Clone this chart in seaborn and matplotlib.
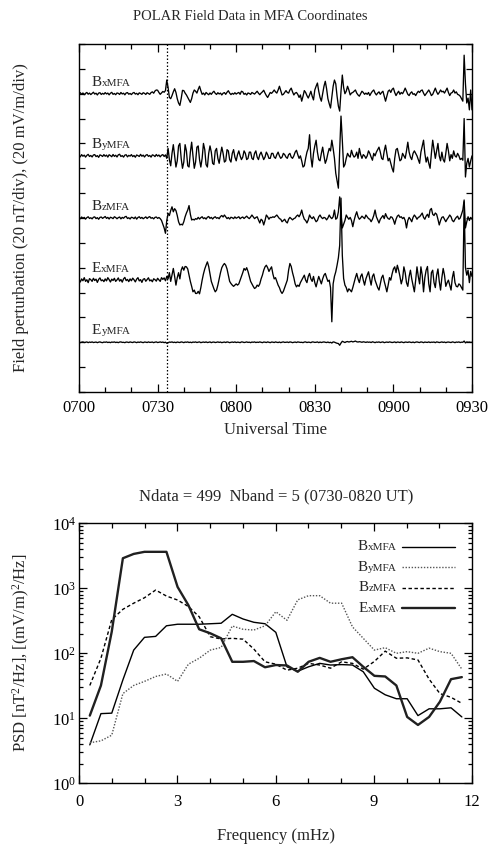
import numpy as np
import pandas as pd
import matplotlib
matplotlib.use("Agg")
import matplotlib.pyplot as plt
import seaborn as sns
from matplotlib.offsetbox import TextArea, HPacker, VPacker, DrawingArea, AnchoredOffsetbox, AnnotationBbox
from matplotlib.lines import Line2D
from matplotlib.ticker import MultipleLocator, LogLocator, NullFormatter

# ---------------- data: time series (perturbations, 0.5-min samples from 0700 UT) -------------
SAMPLE_MIN = 0.5
bx = [0.0, 0.8, -0.5, 0.6, -0.8, 0.3, 1.0, -0.4, 0.5, -0.7,
      0.2, 1.2, -0.3, 0.4, -1.0, 0.5, 0.8, -0.6, 0.3, -0.4,
      0.9, -0.2, 0.5, -0.9, 0.4, 1.1, -0.5, 0.2, -0.8, 0.6,
      0.3, -0.6, 1.0, -0.2, 0.4, -0.9, 0.6, 0.9, -0.4, 0.2,
      -0.7, 0.5, 1.0, -0.3, 0.3, -0.8, 0.7, 0.2, -0.5, 0.8,
      0.3, -0.6, 0.8, 0.2, -0.5, 0.9, 1.5, 0.4, 2.2, 3.0,
      2.8, 1.0, -0.5, 0.6, 1.8, 1.2, 2.5, 11.0, 5.0, -3.0,
      -4.0, -1.5, 1.5, 4.0, 1.0, -4.0, -7.5, -9.4, -4.0, 2.7,
      2.5, 0.5, -1.0, -3.0, -5.0, -7.0, -4.0, 0.5, 3.0, 2.0,
      0.5, 3.5, 6.0, 2.5, -0.5, 0.5, -1.0, 1.0, 0.0, -0.8,
      0.6, -0.5, 1.0, 2.0, 0.3, -0.6, 0.8, -0.2, 0.5, -1.0,
      0.4, 0.9, -0.5, 1.2, 2.4, 0.5, -0.7, 0.3, -0.4, 0.8,
      -0.3, 0.5, 1.0, -0.5, 2.0, 1.5, -0.5, 0.3, -1.0, 0.6,
      0.2, -0.6, 1.0, 0.4, -0.3, 0.8, 2.0, 0.4, -0.8, 0.5,
      1.5, 2.8, 0.5, -1.5, -3.0, -1.0, 1.0, 0.3, 1.5, 3.0,
      1.5, 0.5, 3.0, 6.0, 2.5, -1.0, -0.5, 1.0, 2.5, 1.0,
      0.5, 3.0, 4.5, 1.5, -1.0, 0.5, 1.0, -0.5, -3.0, -1.0,
      -6.0, -2.0, 2.5, 1.0, -1.5, -3.5, -1.0, 2.0, -2.0, -5.0,
      3.0, 6.0, 8.6, 2.0, -3.0, -6.0, 0.0, 6.0, 10.0, 4.0,
      -4.0, -8.0, -11.5, -3.0, 6.0, 11.0, 8.0, -2.0, -10.0, -14.0,
      2.0, 15.0, 5.0, 0.0, 2.0, 6.0, 3.0, -1.0, 0.5, 1.0,
      2.0, 3.0, 0.5, -1.0, -2.0, 0.0, 2.0, 1.0, -0.5, 0.5,
      -0.5, 1.0, -1.5, 0.5, 2.0, 3.0, 0.5, -1.0, 0.5, 1.5,
      -0.5, 1.0, 2.0, -2.0, -6.0, -2.0, 2.0, 3.0, 1.0, 3.5,
      4.5, 1.0, -1.5, 0.5, 2.0, -0.5, 1.0, 0.0, 2.0, 4.5,
      2.0, -0.5, -1.5, 0.5, 1.5, -0.5, 0.0, -1.5, 0.5, 2.0,
      1.0, 2.5, 3.0, 0.5, -1.5, 0.0, 1.5, 3.0, 1.0, -1.5,
      -0.5, 2.0, 4.5, 1.5, -0.5, 1.0, 3.0, 1.5, 2.0, 0.5,
      2.5, 4.5, 1.0, -1.5, 0.5, 1.0, 3.0, 0.5, 1.5, -0.5,
      -1.0, -2.0, -4.0, -6.0, 31.0, 8.0, -7.5, -3.5, -13.0, 3.0,
      -13.0]

by = [0.5, -0.8, 1.0, -0.3, 0.6, -1.0, 0.4, 1.2, -0.5, 0.3,
      -0.9, 0.7, 1.0, -0.6, 0.2, -1.2, 0.8, 0.3, -0.5, 1.0,
      -0.3, 0.6, -1.0, 0.9, 0.2, -0.7, 1.1, -0.4, 0.5, -0.9,
      0.8, 1.3, -0.5, 0.2, -1.0, 0.6, 0.9, -0.8, 0.4, -0.2,
      1.0, -0.6, 0.3, -1.1, 0.7, 0.2, -0.5, 1.2, -0.3, 0.6,
      -0.9, 0.5, 1.0, -0.4, 0.3, -1.0, 0.8, 0.4, -0.6, 1.1,
      -0.2, 0.7, -0.8, 0.5, 1.0, -0.5, 0.8, -2.0, 6.0, -3.0,
      -8.0, 2.0, 9.0, 0.0, -9.0, -4.0, 8.0, 10.0, -2.0, -10.0,
      -5.0, 9.0, 4.0, -8.0, -9.0, 3.0, 11.0, 0.0, -10.0, -5.0,
      7.0, 8.0, -3.0, -9.0, -2.0, 10.0, 5.0, -7.0, -9.0, 2.0,
      8.0, 3.0, -6.0, -7.0, 4.0, 6.0, -2.0, -6.0, 1.0, 7.0,
      2.0, -5.0, -4.0, 5.0, 4.0, -3.0, -5.0, 2.0, 5.0, -1.0,
      -4.0, 1.0, 4.0, 0.0, -3.0, -1.0, 4.0, 2.0, -3.0, -2.0,
      3.0, 3.0, -2.0, -3.0, 2.0, 4.0, -1.0, -3.0, 1.0, 3.0,
      0.0, -3.0, -1.0, 3.0, 1.0, -2.0, -2.0, 2.0, 2.0, -1.0,
      -2.0, 1.0, 3.0, 0.0, -2.0, -1.0, 2.0, 1.0, -1.0, -2.0,
      1.0, 2.0, -1.0, -2.0, 0.0, 3.0, 4.5, 1.0, -2.0, 0.0,
      -4.0, -9.0, -8.0, -2.0, 3.0, 6.0, 17.0, -1.0, -9.0, 2.0,
      8.0, 12.6, 3.0, -3.0, -4.0, 2.0, 7.0, 0.0, -6.0, -3.0,
      2.0, 6.0, 4.0, 12.6, 6.0, -2.0, -14.0, -20.0, -26.0, 4.5,
      32.0, 12.6, -9.0, -7.0, -2.0, 2.0, 0.0, -1.0, 4.5, 1.0,
      -1.0, 0.0, 3.0, -2.0, 6.0, 1.0, -2.0, 1.0, 0.0, -2.0,
      0.0, 4.0, 2.0, -1.0, -3.5, 2.0, 0.0, 3.0, 5.0, 7.0,
      3.0, -2.0, -3.0, 4.0, 8.6, 2.0, -4.0, -2.0, -6.0, -10.0,
      -13.0, -2.0, 5.0, 6.0, 1.0, -4.0, -3.0, 2.0, 0.0, -2.0,
      4.0, 11.0, 3.0, -1.0, -3.0, 2.0, 4.0, 2.0, 0.0, -3.0,
      -6.0, 3.0, 8.0, 12.6, 2.0, -5.0, -1.0, -6.0, -10.0, 2.0,
      12.6, 5.0, -2.0, 4.0, 10.0, 0.0, -4.0, 3.0, -3.0, -5.0,
      2.0, 10.0, 4.0, -4.0, 1.0, -2.0, 4.0, 0.0, -1.0, 2.0,
      0.0, -3.0, -2.0, -3.5, 30.0, -17.0, -6.0, -2.0, -9.0, -4.0,
      0.0]

bz = [0.4, -0.6, 0.8, -0.2, 0.5, -0.9, 0.3, 1.0, -0.4, 0.2,
      -0.7, 0.6, 0.9, -0.5, 0.3, -1.0, 0.5, 0.8, -0.3, 0.4,
      1.2, -0.3, 0.5, -0.8, 0.6, 0.2, -0.5, 1.0, 0.4, -0.6,
      0.3, 0.8, -0.7, 0.5, -0.2, 0.9, 1.3, -0.4, 0.2, -0.8,
      0.6, 0.3, -0.5, 0.8, -0.9, 0.4, 1.0, -0.3, 0.5, -0.6,
      0.2, 0.9, -0.4, 0.6, 1.1, -0.2, 0.3, -0.7, 0.5, 0.8,
      -0.3, 0.4, -0.5, -2.0, -5.0, -8.0, -12.3, -2.0, 3.7, 2.0,
      6.0, 9.0, 5.0, 7.5, 6.0, 2.0, -3.0, -5.6, -5.0, -5.6,
      -3.0, 1.0, 4.0, 6.4, 10.0, 3.0, -1.6, -1.0, -1.6, -0.5,
      -1.0, 0.5, -0.8, 0.3, 1.0, -0.5, 0.2, -0.9, 0.6, 1.2,
      -0.3, 0.5, -0.8, 0.4, 1.0, -0.2, 0.3, -0.6, 1.2, 2.0,
      0.8, 2.4, 1.0, -0.5, 0.4, -0.8, 0.6, 0.2, -0.5, 0.9,
      -0.2, 0.4, 1.0, -0.6, 0.3, 0.8, -0.4, 0.6, 1.5, 0.3,
      -0.5, 0.8, 2.4, 1.0, -0.5, 0.4, 1.0, -1.5, -4.0, -1.0,
      -2.0, -5.6, -2.0, 2.4, 1.0, -1.0, 0.5, 0.3, 1.0, 0.5,
      1.5, 2.4, 1.0, -0.5, -1.0, -3.0, -2.0, -1.0, -3.0, -4.0,
      -1.0, 0.5, -0.5, -1.5, -0.5, 0.0, 1.5, 2.4, 1.0, 3.0,
      6.4, 2.0, -1.0, -2.0, -4.0, -1.5, 2.4, 0.5, -0.5, 1.0,
      -1.0, -3.0, -2.0, 1.0, 2.4, 0.5, -0.5, 0.5, 0.0, -1.5,
      0.0, 2.4, 0.5, -0.5, 1.0, 6.4, -1.0, 0.0, 5.0, 17.0,
      3.0, -8.0, -5.0, -2.0, 2.4, 0.5, -1.0, 0.5, -2.0, -7.0,
      -2.0, 2.0, 5.0, 1.0, -1.0, 0.0, 1.5, 0.5, -0.5, 2.4,
      1.0, -0.5, -1.0, -3.0, -1.0, 2.0, 6.4, 1.0, -1.5, -4.0,
      -1.0, 0.5, 2.0, -0.5, 3.5, 1.0, -0.5, -1.0, 1.0, 0.5,
      -1.5, -5.0, -1.0, 1.5, 2.4, 0.5, 1.0, -0.5, 0.5, -2.0,
      -8.0, -2.0, 0.5, -1.0, -3.0, 0.5, 2.4, 1.0, -1.0, 0.5,
      1.0, 2.4, 4.0, 0.5, -1.0, 1.5, 3.0, 0.5, 6.4, 7.7,
      3.0, 2.0, 4.0, 3.0, -1.0, -5.6, -2.0, 0.5, 1.0, -1.0,
      -3.0, -1.0, 0.5, 2.4, 1.0, -2.0, -3.0, -1.0, 0.5, 1.5,
      -1.0, 0.0, 3.0, 6.4, 14.5, -8.0, -3.0, 1.0, -2.0, 0.5,
      -1.0]

ex = [0.5, -1.5, 1.0, -0.5, 2.0, -1.0, 0.3, -2.0, 1.2, 0.4,
      -1.0, 1.5, -0.3, 0.8, -1.8, 0.6, 1.8, -0.5, 0.2, -1.2,
      1.0, -0.6, 2.0, 0.4, -1.5, 0.8, -0.3, 1.5, -1.0, 0.2,
      1.8, -0.8, 0.5, -1.6, 1.0, 2.2, -0.4, 0.6, -1.2, 1.0,
      -0.5, 1.6, 0.3, -1.4, 0.8, 2.0, -0.6, 0.4, -1.8, 0.7,
      1.2, -0.9, 0.5, 1.9, -0.6, 0.2, -1.3, 1.1, 0.4, -0.8,
      1.5, 0.3, -1.0, 2.0, 0.6, 1.8, -0.5, 3.0, 1.0, 6.0,
      -1.0, 4.0, 9.4, 3.0, -4.0, 2.0, 6.0, 1.0, 8.0, 10.7,
      8.0, 11.0, 10.7, 9.0, 4.0, -1.0, -5.0, -9.4, -8.0, -10.7,
      -10.7, -9.0, -11.0, -6.0, 0.0, 5.0, 9.0, 12.0, 14.7, 11.0,
      5.0, -1.0, -4.0, -7.0, -9.4, -8.0, -4.0, 1.0, 6.0, 10.0,
      12.0, 13.4, 12.0, 9.0, 4.0, -1.0, -2.7, -4.0, -5.0, -4.0,
      -3.0, -4.0, -3.0, 0.0, 3.0, 6.0, 9.4, 8.0, 10.0, 7.0,
      3.0, -1.0, -3.0, -5.0, -6.7, -6.0, -4.0, -5.0, -3.0, 1.0,
      4.0, 8.0, 10.7, 12.0, 10.0, 7.0, 9.0, 10.7, 5.0, 1.0,
      2.0, -1.0, -4.0, -6.0, -9.0, -10.7, -9.0, -6.0, -3.0, 0.0,
      8.0, 13.4, 11.0, 6.0, 2.0, -3.0, -5.4, -4.0, -5.0, -2.0,
      0.0, 2.0, 4.0, 0.0, -2.0, 3.0, 5.4, 1.0, -1.0, 3.0,
      -2.0, -5.4, -1.0, 3.0, 0.0, -3.0, 1.0, 4.0, 5.4, 2.0,
      -1.0, 0.0, -6.0, -33.5, -3.0, 3.0, 6.7, 12.0, 18.0, 28.0,
      66.0, 20.0, 1.3, -4.0, -6.0, -9.4, -7.0, -8.0, -9.4, -6.0,
      -2.0, 2.0, 5.4, 1.0, -2.0, 3.0, 5.0, 0.0, -4.0, 1.0,
      4.0, 6.7, 1.0, -4.0, 3.0, 5.0, 0.0, -3.0, -6.0, -8.0,
      -3.0, 2.0, 4.0, -1.0, -5.0, -9.4, -4.0, 2.0, 0.0, 5.0,
      9.0, 10.7, 6.0, 12.0, 8.0, 3.0, -3.0, 1.0, 10.7, 6.0,
      -2.0, -5.0, 3.0, 8.0, 1.0, -4.0, -9.4, 0.0, 10.7, 3.0,
      -3.0, 10.7, 4.0, -9.4, 2.0, 8.0, 11.0, -3.0, -9.4, 6.0,
      8.0, -2.0, -6.0, 4.0, 9.0, -1.0, -8.0, 2.0, 9.4, 4.0,
      -5.0, -2.0, 0.0, -4.0, -8.0, 2.0, 7.0, -2.0, -5.0, -5.4,
      -3.0, -4.0, -6.0, -8.0, 63.0, 10.0, 4.0, 8.0, -2.0, 7.0,
      3.0]

ey = [0.2, -0.3, 0.1, 0.3, -0.2, 0.0, 0.3, -0.3, 0.2, -0.1,
      0.3, -0.2, 0.0, 0.2, -0.3, 0.1, 0.3, -0.1, -0.3, 0.2,
      0.0, 0.3, -0.2, 0.1, -0.3, 0.2, 0.0, 0.3, -0.2, 0.1,
      -0.3, 0.2, 0.3, -0.1, 0.0, -0.3, 0.2, 0.1, -0.2, 0.3,
      0.0, -0.2, 0.3, 0.1, -0.3, 0.2, -0.1, 0.3, 0.0, -0.3,
      0.2, 0.1, -0.2, 0.3, -0.1, 0.0, 0.2, -0.3, 0.1, 0.3,
      -0.2, 0.0, 0.3, -0.1, 0.2, -0.3, 0.1, -0.8, -0.4, 0.2,
      0.0, 0.3, -0.2, 0.1, -0.3, 0.2, 0.0, -0.2, 0.3, 0.1,
      -0.3, 0.2, 0.0, 0.3, -0.2, 0.1, -0.3, 0.2, 0.0, 0.3,
      -0.2, 0.1, 0.3, -0.3, 0.0, 0.2, -0.1, 0.3, -0.2, 0.0,
      0.3, -0.3, 0.1, 0.2, -0.2, 0.0, 0.3, -0.1, 0.2, -0.3,
      0.0, 0.2, -0.2, 0.3, 0.1, -0.3, 0.0, 0.2, -0.1, 0.3,
      -0.2, 0.1, 0.0, -0.3, 0.3, 0.2, -0.2, 0.0, 0.3, -0.1,
      0.1, -0.3, 0.2, 0.0, 0.3, -0.2, 0.1, -0.1, 0.3, 0.0,
      -0.3, 0.2, 0.1, -0.2, 0.3, 0.0, -0.3, 0.2, 0.1, -0.2,
      0.3, 0.0, -0.2, 0.2, -0.3, 0.1, 0.3, -0.1, 0.0, 0.2,
      -0.2, 0.3, 0.1, -0.3, 0.0, 0.2, -0.2, 0.3, 0.1, -0.1,
      0.0, -0.3, 0.2, 0.3, -0.2, 0.1, 0.0, -0.3, 0.3, 0.2,
      -0.1, 0.0, 0.3, -0.3, 0.2, -0.2, 0.1, 0.3, 0.0, -0.2,
      0.2, -0.3, 0.0, -0.6, 0.3, 0.1, -0.4, -0.8, -1.0, -2.4,
      -0.6, 0.8, 0.3, -0.2, 0.4, 0.6, 0.2, 0.5, 0.8, 0.3,
      0.6, 1.0, 0.4, 0.2, 0.5, 0.3, 0.0, 0.4, 0.2, -0.1,
      0.3, 0.0, 0.2, -0.2, 0.4, 0.1, -0.3, 0.2, 0.0, 0.3,
      -0.2, 0.1, 0.3, -0.3, 0.0, 0.2, -0.1, 0.3, 0.1, -0.2,
      0.0, 0.3, -0.3, 0.2, 0.1, -0.2, 0.3, 0.0, -0.3, 0.2,
      0.1, -0.1, 0.3, 0.0, -0.2, 0.2, -0.3, 0.1, 0.3, 0.0,
      -0.2, 0.3, 0.1, -0.3, 0.2, 0.0, -0.1, 0.3, -0.2, 0.1,
      0.0, 0.2, -0.3, 0.3, 0.1, -0.2, 0.0, 0.3, -0.1, 0.2,
      -0.3, 0.1, 0.2, 0.0, -0.2, 0.3, 0.1, -0.3, 0.2, 0.0,
      0.3, -0.2, 0.1, 0.0, 1.0, -0.5, 0.3, 0.0, 0.2, -0.1,
      0.0]

trace_names = ["BxMFA", "ByMFA", "BzMFA", "ExMFA", "EyMFA"]
trace_letters = ["B", "B", "B", "E", "E"]
trace_subs = ["xMFA", "yMFA", "zMFA", "xMFA", "yMFA"]
trace_offsets = [240, 190, 140, 90, 40]
event_min = 33.5
time_ticks = [0, 30, 60, 90, 120, 150]
time_labels = ["0700", "0730", "0800", "0830", "0900", "0930"]

# ---------------- data: spectra ----------------
freq_mhz = [0.33, 0.67, 1.00, 1.34, 1.67, 2.00, 2.34, 2.67, 3.01, 3.34, 3.67, 4.01,
            4.34, 4.68, 5.01, 5.34, 5.68, 6.01, 6.35, 6.68, 7.01, 7.35, 7.68, 8.02,
            8.35, 8.68, 9.02, 9.35, 9.69, 10.02, 10.35, 10.69, 11.02, 11.36, 11.69]
psd_bx = [3.9, 11.8, 12, 39, 112, 176, 182, 265, 280, 280, 280, 285, 290, 398, 337,
          300, 285, 210, 62, 53, 62, 70, 66, 67, 66, 52, 29, 23, 20, 20, 11, 14, 14,
          14.5, 10.5]
psd_by = [4.2, 4.5, 5.5, 24, 32, 37, 44, 48, 37, 68, 84, 112, 123, 263, 234, 228,
          265, 436, 322, 665, 770, 770, 590, 590, 255, 170, 112, 122, 100, 106, 100,
          120, 106, 100, 57]
psd_bz = [32, 84, 330, 475, 590, 716, 940, 760, 660, 525, 365, 180, 166, 170, 165,
          116, 74, 68, 55, 59, 70, 66, 59, 74, 70, 57, 75, 108, 84, 85, 79, 40, 24,
          21, 17]
psd_ex = [11, 32, 215, 2900, 3380, 3640, 3640, 3640, 1050, 550, 234, 203, 170, 74,
          74, 76, 61, 66, 65, 52, 74, 85, 74, 81, 87, 62, 45, 44, 32, 10.5, 7.9,
          10.5, 18, 40, 43]
psd_names = ["BxMFA", "ByMFA", "BzMFA", "ExMFA"]

# ---------------- style ----------------
sns.set_theme(style="ticks")
SERIF = ["Liberation Serif", "DejaVu Serif"]
plt.rcParams["font.family"] = SERIF
plt.rcParams["mathtext.fontset"] = "custom"
plt.rcParams["mathtext.rm"] = "Liberation Serif"
plt.rcParams["mathtext.it"] = "Liberation Serif:italic"
plt.rcParams["axes.linewidth"] = 1.0
plt.rcParams["axes.edgecolor"] = "black"

BIG, SMALL = 11, 8

W, H = 488, 848
fig = plt.figure(figsize=(W / 100, H / 100), dpi=100)
ax1 = fig.add_axes([79 / W, 1 - 392 / H, 393 / W, 348 / H])
ax2 = fig.add_axes([79 / W, 1 - 783.3 / H, 393 / W, 260 / H])

# ---------------- top panel ----------------
frames = []
for name, vals, off in zip(trace_names, [bx, by, bz, ex, ey], trace_offsets):
    v = np.asarray(vals, dtype=float)
    frames.append(pd.DataFrame({"minute": np.arange(len(v)) * SAMPLE_MIN,
                                "y": v + off, "comp": name}))
df_top = pd.concat(frames, ignore_index=True)
sns.lineplot(data=df_top, x="minute", y="y", hue="comp", palette=["black"] * 5,
             estimator=None, sort=False, legend=False, lw=0.95, ax=ax1)
ax1.axvline(event_min, color="black", lw=0.9, ls=(0, (1.2, 1.6)))
ax1.set_xlim(0, 150)
ax1.set_ylim(0, 280)
ax1.set_xticks(time_ticks)
ax1.set_xticklabels(time_labels)
ax1.xaxis.set_minor_locator(MultipleLocator(10))
ax1.yaxis.set_major_locator(MultipleLocator(20))
ax1.set_yticklabels([])
ax1.set_xlabel("")
ax1.set_ylabel("")
ax1.tick_params(axis="both", which="both", direction="in", top=True, right=True,
                colors="black", width=0.9)
ax1.tick_params(axis="x", which="major", length=6, pad=6, labelsize=12)
ax1.tick_params(axis="x", which="minor", length=3.5)
ax1.tick_params(axis="y", which="major", length=4.5)

for letter, sub, off in zip(trace_letters, trace_subs, trace_offsets):
    hp = HPacker(children=[TextArea(letter, textprops=dict(fontsize=BIG, family=SERIF)),
                           TextArea(sub, textprops=dict(fontsize=SMALL, family=SERIF))],
                 align="baseline", pad=0, sep=0.3)
    ab = AnnotationBbox(hp, (4.8, off + 4.0), xycoords="data", box_alignment=(0, 0),
                        frameon=False, pad=0)
    ax1.add_artist(ab)

# ---------------- bottom panel ----------------
ax2.set_yscale("log")
styles = {
    "BxMFA": dict(color="black", lw=1.0, ls="-"),
    "ByMFA": dict(color="#555555", lw=1.0, ls=(0, (1, 1.2))),
    "BzMFA": dict(color="black", lw=1.0, ls=(0, (2.5, 1.8))),
    "ExMFA": dict(color="#202020", lw=1.7, ls="-"),
}
for name, vals in zip(psd_names, [psd_bx, psd_by, psd_bz, psd_ex]):
    st = styles[name]
    sns.lineplot(x=freq_mhz, y=vals, ax=ax2, color=st["color"], lw=st["lw"],
                 linestyle=st["ls"], estimator=None, sort=False)
ax2.set_xlim(0, 12)
ax2.set_ylim(1, 1e4)
ax2.set_xticks([0, 3, 6, 9, 12])
ax2.xaxis.set_minor_locator(MultipleLocator(1))
ax2.yaxis.set_major_locator(LogLocator(base=10, numticks=10))
ax2.yaxis.set_minor_locator(LogLocator(base=10, subs=np.arange(2, 10), numticks=20))
ax2.yaxis.set_minor_formatter(NullFormatter())
ax2.set_xlabel("")
ax2.set_ylabel("")
ax2.tick_params(axis="both", which="both", direction="in", top=True, right=True,
                colors="black", width=0.9, labelsize=12)
ax2.tick_params(axis="x", which="major", length=6, pad=8)
ax2.tick_params(axis="x", which="minor", length=3.5)
ax2.tick_params(axis="y", which="major", length=6, pad=2)
ax2.tick_params(axis="y", which="minor", length=3)

rows = []
for name in psd_names:
    st = styles[name]
    txt = HPacker(children=[TextArea(name[0], textprops=dict(fontsize=BIG, family=SERIF)),
                            TextArea(name[1:], textprops=dict(fontsize=SMALL, family=SERIF))],
                  align="baseline", pad=0, sep=0.3)
    da = DrawingArea(38, 8, 0, 0)
    da.add_artist(Line2D([0, 38], [4, 4], color=st["color"], lw=st["lw"], ls=st["ls"]))
    rows.append(HPacker(children=[txt, da], align="center", pad=0, sep=4))
box = VPacker(children=rows, align="right", pad=0, sep=5.4)
anch = AnchoredOffsetbox(loc="upper right", child=box, pad=0, borderpad=0, frameon=False,
                         bbox_to_anchor=(0.957, 0.935), bbox_transform=ax2.transAxes)
ax2.add_artist(anch)

# ---------------- titles & labels ----------------
fig.text(250 / W, 1 - 16 / H, "POLAR Field Data in MFA Coordinates", ha="center",
         va="center", fontsize=10.5)
fig.text(276 / W, 1 - 430 / H, "Universal Time", ha="center", va="center", fontsize=12)
fig.text(21 / W, 1 - 218 / H, "Field perturbation (20 nT/div), (20 mV/m/div)",
         rotation=90, ha="center", va="center", fontsize=12)
fig.text(276 / W, 1 - 496 / H, "Ndata = 499  Nband = 5 (0730-0820 UT)", ha="center",
         va="center", fontsize=12)
fig.text(21 / W, 1 - 653 / H, "PSD [nT$^2$/Hz], [(mV/m)$^2$/Hz]", rotation=90,
         ha="center", va="center", fontsize=12)
fig.text(276 / W, 1 - 836 / H, "Frequency (mHz)", ha="center", va="center", fontsize=12)

fig.savefig("out.png", dpi=100, facecolor="white")
